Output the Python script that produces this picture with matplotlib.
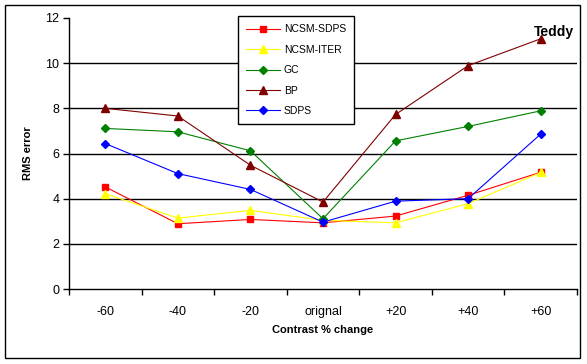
import numpy as np
import matplotlib.pyplot as plt
from matplotlib.patches import Rectangle

plt.rcParams['font.family'] = ['Liberation Sans', 'DejaVu Sans']

categories = ['-60', '-40', '-20', 'orignal', '+20', '+40', '+60']

ncsm_sdps = [4.52, 2.89, 3.08, 2.93, 3.23, 4.15, 5.17]
ncsm_iter = [4.22, 3.14, 3.48, 3.04, 2.93, 3.78, 5.16]
gc = [7.11, 6.96, 6.12, 3.11, 6.56, 7.20, 7.89]
bp = [8.00, 7.66, 5.48, 3.85, 7.73, 9.89, 11.08]
sdps = [6.44, 5.11, 4.41, 2.96, 3.89, 4.00, 6.86]

series = [
    ('NCSM-SDPS', ncsm_sdps, '#ff0000', 's', 5),
    ('NCSM-ITER', ncsm_iter, '#ffff00', '^', 6),
    ('GC', gc, '#008000', 'D', 4.5),
    ('BP', bp, '#800000', '^', 6),
    ('SDPS', sdps, '#0000ff', 'D', 4.5),
]

fig = plt.figure(figsize=(5.87, 3.64), dpi=100)
fig.patches.append(Rectangle((5 / 587, 6 / 364), 575 / 587, 353 / 364,
                             transform=fig.transFigure, fill=False,
                             edgecolor='black', linewidth=1))

ax = fig.add_axes([69 / 587, 1 - 289 / 364, 508 / 587, 271 / 364])

x = np.arange(len(categories))
for name, vals, color, marker, ms in series:
    ax.plot(x, vals, color=color, marker=marker, markersize=ms,
            linewidth=0.8, label=name)

ax.set_xlim(-0.5, len(categories) - 0.5)
ax.set_ylim(0, 12)
ax.set_yticks(range(0, 13, 2))
ax.set_xticks(x)
ax.set_xticklabels(categories)
ax.set_xticks(np.arange(-0.5, len(categories), 1), minor=True)
ax.tick_params(axis='x', which='major', length=0, pad=12, labelsize=9)
ax.tick_params(axis='x', which='minor', length=4, direction='out', width=1)
ax.tick_params(axis='y', length=4, direction='out', width=1, labelsize=9, pad=3)

for yv in range(2, 12, 2):
    ax.axhline(yv, color='black', linewidth=1, zorder=0)

ax.spines['top'].set_visible(False)
ax.spines['right'].set_visible(False)
ax.spines['left'].set_linewidth(1)
ax.spines['bottom'].set_linewidth(1)

ax.set_xlabel('Contrast % change', fontsize=8, fontweight='bold', labelpad=5)
ax.set_ylabel('RMS error', fontsize=8, fontweight='bold', labelpad=9)

ax.text(0.995, 0.975, 'Teddy', transform=ax.transAxes, ha='right', va='top',
        fontsize=10, fontweight='bold')

leg = ax.legend(loc='upper left', bbox_to_anchor=(169 / 508, 1.007),
                fontsize=7.5, frameon=True, fancybox=False, framealpha=1,
                edgecolor='black', handlelength=3.2, labelspacing=1.0,
                borderpad=0.8, handletextpad=0.4, borderaxespad=0)
leg.get_frame().set_linewidth(1)
leg.set_zorder(5)

fig.savefig('out.png', dpi=100)
